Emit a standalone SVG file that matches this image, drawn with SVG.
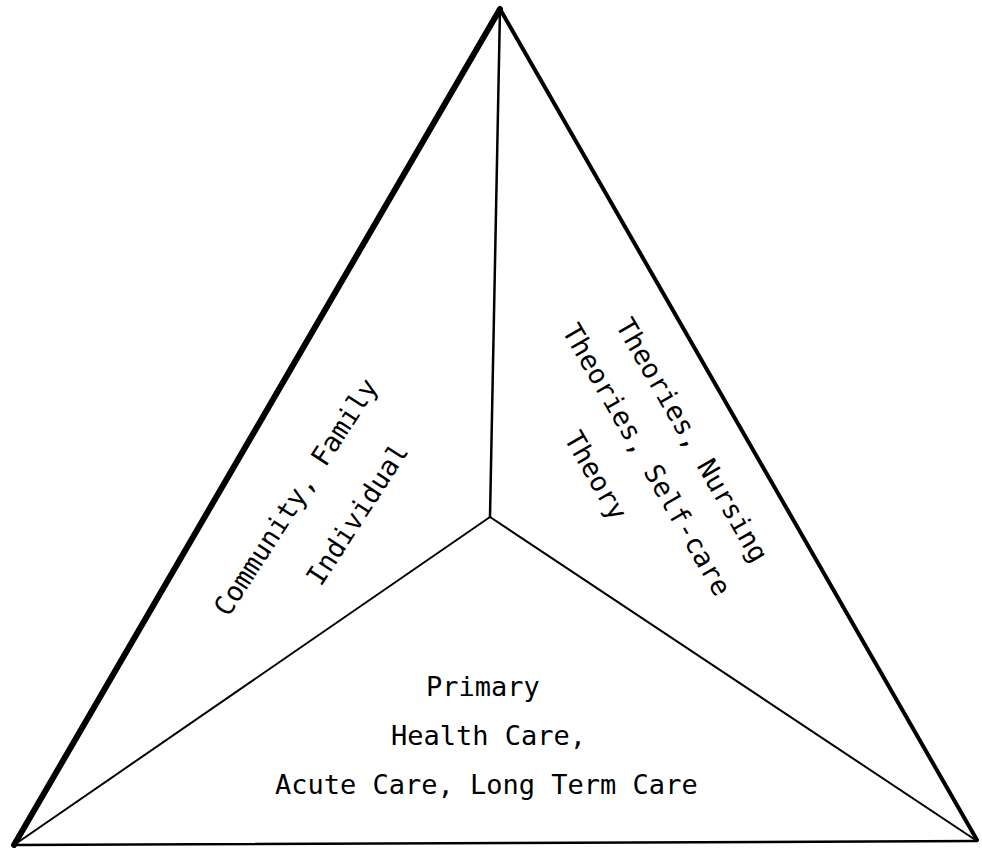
<svg xmlns="http://www.w3.org/2000/svg" width="982" height="848" viewBox="0 0 982 848">
  <style>
    .lbl { font-family: "DejaVu Sans Mono", "Liberation Mono", monospace; font-size: 27px; fill: #000; }
    .edge { stroke: #000; fill: none; stroke-linecap: round; stroke-linejoin: round; }
  </style>
  <rect width="982" height="848" fill="#fff"/>
  <g id="connectors">
    <line class="edge" x1="14" y1="845" x2="500" y2="9" stroke-width="6"/>
    <line class="edge" x1="500" y1="9" x2="977" y2="840" stroke-width="4"/>
    <line class="edge" x1="14" y1="845" x2="977" y2="841" stroke-width="2.5"/>
    <line class="edge" x1="500" y1="9" x2="490" y2="517" stroke-width="2.5"/>
    <line class="edge" x1="490" y1="517" x2="14" y2="845" stroke-width="2"/>
    <line class="edge" x1="490" y1="517" x2="977" y2="841" stroke-width="2"/>
  </g>
  <g id="node-left">
    <g transform="rotate(-57)">
      <text class="lbl" x="-394" y="528">Community, Family</text>
      <text class="lbl" x="-318" y="589">Individual</text>
    </g>
  </g>
  <g id="node-right">
    <g transform="rotate(60)">
      <text class="lbl" x="589" y="-370">Theories, Nursing</text>
      <text class="lbl" x="567" y="-321">Theories, Self-care</text>
      <text class="lbl" x="661" y="-269">Theory</text>
    </g>
  </g>
  <g id="node-bottom">
    <text class="lbl" x="426" y="696">Primary</text>
    <text class="lbl" x="391" y="745">Health Care,</text>
    <text class="lbl" x="275" y="794">Acute Care, Long Term Care</text>
  </g>
</svg>
